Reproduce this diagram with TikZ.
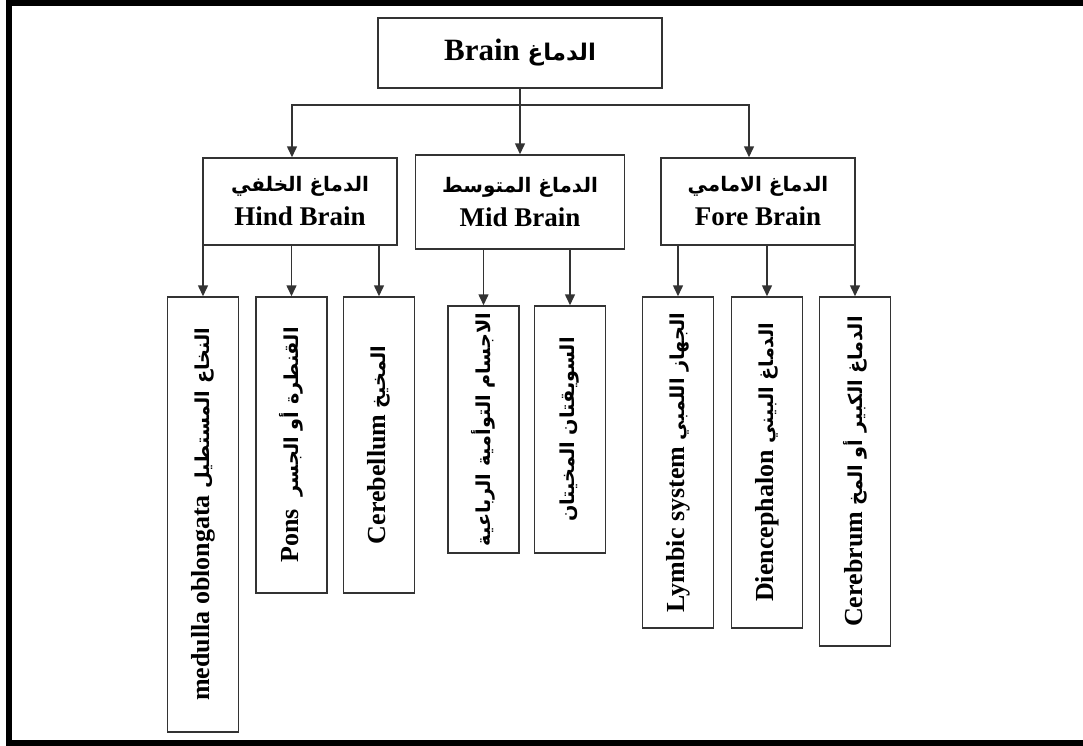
\documentclass[tikz,border=0pt]{standalone}
\usepackage{fontspec}
\setmainfont{Liberation Serif}
\newfontfamily\arabicfont[Script=Arabic,Scale=0.74]{DejaVu Sans}
\TeXXeTstate=1
\usetikzlibrary{arrows.meta}
\newcommand{\arb}[1]{{\arabicfont\beginR #1\endR}}

\tikzset{
  box/.style={draw=black!80, line width=1.5pt, inner sep=0pt, align=center,
              font=\bfseries\fontsize{27}{34}\selectfont},
  leaf/.style={box, rotate=90, minimum height=71pt,
               font=\bfseries\fontsize{26}{30}\selectfont},
  arr/.style={draw=black!80, line width=1.5pt, -{Triangle[length=11pt,width=10pt]}},
}

\begin{document}
\begin{tikzpicture}[x=1pt,y=-1pt]
            \useasboundingbox (0,0) rectangle (1083,745);
            \draw[line width=6pt] (1083,2.5) -- (9,2.5) -- (9,742.5) -- (1083,742.5);
            % top and second level
            \node[box, minimum width=284, minimum height=70, font=\bfseries\fontsize{31}{36}\selectfont](brain) at (520,53) {Brain \arb{الدماغ}};
            \node[box, minimum width=194, minimum height=87](hind)  at (300,201.5) {\arb{الدماغ الخلفي}\\Hind Brain};
            \node[box, minimum width=209, minimum height=94](mid)   at (520,202)   {\arb{الدماغ المتوسط}\\Mid Brain};
            \node[box, minimum width=194, minimum height=87](fore)  at (758,201.5) {\arb{الدماغ الامامي}\\Fore Brain};
            % leaves
            \node[leaf, minimum width=435](med)  at (203,514.5) {medulla oblongata \arb{النخاع المستطيل}};
            \node[leaf, minimum width=296](pons) at (291.5,445) {Pons\ \ \arb{القنطرة أو الجسر}};
            \node[leaf, minimum width=296](cbl)  at (379,445)   {Cerebellum \arb{المخيخ}};
            \node[leaf, minimum width=247](quad) at (483.5,429.5) {\arb{الاجسام التوأمية الرباعية}};
            \node[leaf, minimum width=247](ped)  at (570,429.5) {\arb{السويقتان المخيتان}};
            \node[leaf, minimum width=331](limb) at (678,462.5) {Lymbic system \arb{الجهاز اللمبي}};
            \node[leaf, minimum width=331](dien) at (767,462.5) {Diencephalon \arb{الدماغ البيني}};
            \node[leaf, minimum width=349](cbr)  at (855,471.5) {Cerebrum \arb{الدماغ الكبير أو المخ}};
            % connectors
            \coordinate (bus) at (520,105);
            \draw[arr] (brain.south) -- (mid.north);
            \draw[arr] (bus) -| ([xshift=-8pt]hind.north);
            \draw[arr] (bus) -| ([xshift=-9pt]fore.north);
            \foreach \p/\c in {hind/med, hind/pons, hind/cbl, mid/quad, mid/ped,
                               fore/limb, fore/dien, fore/cbr}
                \draw[arr] (\p.south -| \c.east) -- (\c.east);
        \end{tikzpicture}
\end{document}
